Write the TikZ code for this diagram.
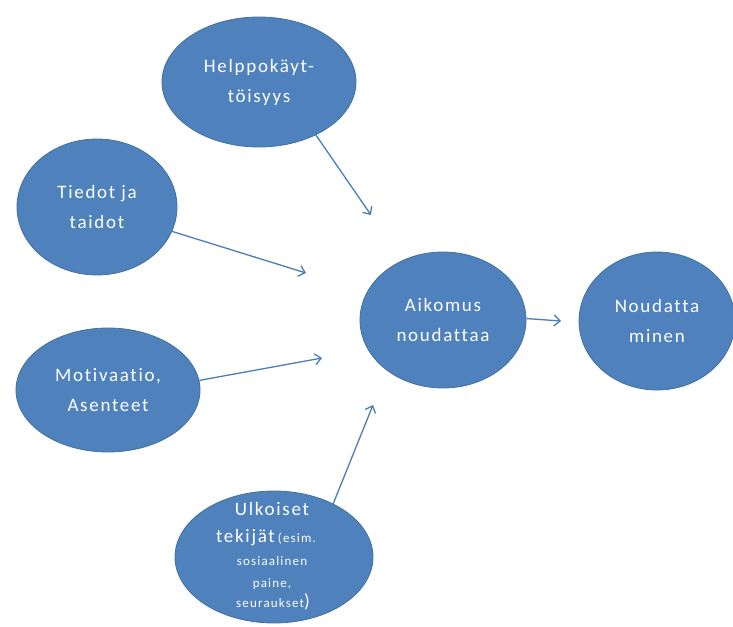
\documentclass[tikz,border=0pt]{standalone}
\usepackage{fontspec}
\setmainfont{Carlito}[LetterSpace=9,Ligatures=NoCommon]
\usetikzlibrary{shapes.geometric,arrows.meta}
\definecolor{bubblefill}{HTML}{4F81BD}
\definecolor{bubbleedge}{HTML}{42709F}
\definecolor{linkcol}{HTML}{4A7EBB}
\newcommand{\bigtxt}{\fontsize{19}{30}\selectfont}
\newcommand{\sml}{\fontsize{13}{18}\selectfont}
\tikzset{
  bubble/.style={ellipse, fill=bubblefill, draw=bubbleedge, line width=0.8pt,
    inner sep=0pt, text=white, align=center, font=\bigtxt},
  label line/.style={text=white, inner sep=0pt, anchor=base},
  link/.style={draw=linkcol, line width=1.3pt,
    -{Straight Barb[length=6pt,width=11pt,line width=1.3pt]}}
}
\begin{document}
\begin{tikzpicture}[x=1pt,y=-1pt]
\useasboundingbox (0,0) rectangle (733,626);
% factor bubbles
\node[bubble, minimum width=194pt, minimum height=130pt] (helppo) at (259,82)
  {Helppokäyt-\\töisyys};
\node[bubble, minimum width=160pt, minimum height=136pt] (tiedot) at (97,207)
  {Tiedot ja\\taidot};
\node[bubble, minimum width=184pt, minimum height=124pt] (motiv) at (108,390)
  {Motivaatio,\\Asenteet};
\node[bubble, minimum width=198pt, minimum height=132pt] (ulko) at (274,557) {};
% multi-size label of the lower bubble, one line per node
\node[label line, font=\bigtxt] (u1) at (272,515) {Ulkoiset};
\node[label line] (u2) at (266,542) {\bigtxt tekijät\,\sml(esim.};
\node[label line, font=\sml] (u3) at (272,565) {sosiaalinen};
\node[label line, font=\sml] (u4) at (272,587) {paine,};
\node[label line] (u5) at (273,607) {\sml seuraukset\bigtxt)};
% intention and behaviour
\node[bubble, minimum width=166pt, minimum height=136pt] (aikomus) at (443,320)
  {Aikomus\\noudattaa};
\node[bubble, minimum width=156pt, minimum height=138pt] (noud) at (657,321)
  {Noudatta\\minen};
% loose arrow ends
\coordinate (e1) at (371,215);
\coordinate (e2) at (306,273);
\coordinate (e3) at (322,358);
\coordinate (e4) at (373,405);
\coordinate (e5) at (561,321);
\draw[link] (helppo.-43) -- (e1);
\draw[link] (tiedot.-18) -- (e2);
\draw[link] (motiv.6) -- (e3);
\draw[link] (ulko.42) -- (e4);
\draw[link] (aikomus.1) -- (e5);
\end{tikzpicture}
\end{document}
